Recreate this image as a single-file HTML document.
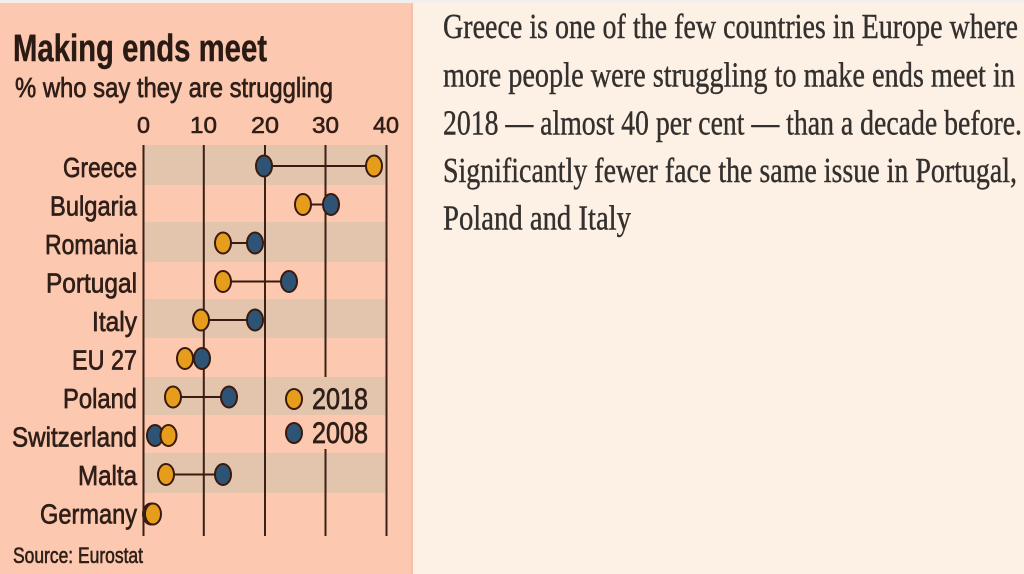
<!DOCTYPE html>
<html>
<head>
<meta charset="utf-8">
<style>
  html, body { margin:0; padding:0; background:#fdf0e4; }
  svg { display:block; }
</style>
</head>
<body>
<svg width="1024" height="574" viewBox="0 0 1024 574" xmlns="http://www.w3.org/2000/svg">
  <!-- backgrounds -->
  <rect x="0" y="0" width="1024" height="574" fill="#fdf0e4"/>
  <rect x="0" y="0" width="412" height="574" fill="#fcc8af"/>
  <rect x="411" y="0" width="2" height="574" fill="#f4c0a8"/>
  <rect x="0" y="0" width="1024" height="3" fill="#f2eeeb"/>

  <!-- title -->
  <text x="13" y="61" font-family="Liberation Sans, sans-serif" font-weight="bold" font-size="38" fill="#2a1a14" stroke="#2a1a14" stroke-width="0.4" textLength="254" lengthAdjust="spacingAndGlyphs">Making ends meet</text>
  <text x="15" y="97" font-family="Liberation Sans, sans-serif" font-size="28" fill="#2f1f18" stroke="#2f1f18" stroke-width="0.7" textLength="318" lengthAdjust="spacingAndGlyphs">% who say they are struggling</text>

  <!-- tick labels -->
  <g font-family="Liberation Sans, sans-serif" font-size="23" fill="#2f1f18" stroke="#2f1f18" stroke-width="0.6">
    <text x="137" y="133" textLength="13" lengthAdjust="spacingAndGlyphs">0</text>
    <text x="190" y="133" textLength="27" lengthAdjust="spacingAndGlyphs">10</text>
    <text x="251" y="133" textLength="28" lengthAdjust="spacingAndGlyphs">20</text>
    <text x="312" y="133" textLength="27" lengthAdjust="spacingAndGlyphs">30</text>
    <text x="373" y="133" textLength="26" lengthAdjust="spacingAndGlyphs">40</text>
  </g>

  <!-- bands -->
  <g fill="#e3c4ad">
    <rect x="143" y="145" width="243" height="40"/>
    <rect x="143" y="222" width="243" height="40"/>
    <rect x="143" y="299" width="243" height="39"/>
    <rect x="143" y="377" width="243" height="38"/>
    <rect x="143" y="453" width="243" height="40"/>
  </g>

  <!-- gridlines -->
  <g stroke="#3a2016" stroke-width="2">
    <line x1="143.5" y1="145" x2="143.5" y2="536"/>
    <line x1="203.8" y1="145" x2="203.8" y2="536"/>
    <line x1="265" y1="145" x2="265" y2="536"/>
    <line x1="325.5" y1="145" x2="325.5" y2="377"/>
    <line x1="325.5" y1="449" x2="325.5" y2="536"/>
    <line x1="386.5" y1="145" x2="386.5" y2="536"/>
  </g>

  <!-- country labels -->
  <g font-family="Liberation Sans, sans-serif" font-size="28" fill="#2f1f18" stroke="#2f1f18" stroke-width="0.7">
    <text x="63" y="177" textLength="74" lengthAdjust="spacingAndGlyphs">Greece</text>
    <text x="50" y="215.5" textLength="87" lengthAdjust="spacingAndGlyphs">Bulgaria</text>
    <text x="45" y="254" textLength="92" lengthAdjust="spacingAndGlyphs">Romania</text>
    <text x="46" y="292.5" textLength="91" lengthAdjust="spacingAndGlyphs">Portugal</text>
    <text x="92" y="331" textLength="45" lengthAdjust="spacingAndGlyphs">Italy</text>
    <text x="72" y="369.5" textLength="65" lengthAdjust="spacingAndGlyphs">EU 27</text>
    <text x="63" y="408" textLength="74" lengthAdjust="spacingAndGlyphs">Poland</text>
    <text x="12" y="446.5" textLength="125" lengthAdjust="spacingAndGlyphs">Switzerland</text>
    <text x="78" y="485" textLength="59" lengthAdjust="spacingAndGlyphs">Malta</text>
    <text x="40" y="523.5" textLength="97" lengthAdjust="spacingAndGlyphs">Germany</text>
  </g>

  <!-- connectors -->
  <g stroke="#3a1a0e" stroke-width="2">
    <line x1="264" y1="166" x2="374" y2="166"/>
    <line x1="303" y1="204.5" x2="331" y2="204.5"/>
    <line x1="223" y1="243" x2="255" y2="243"/>
    <line x1="223" y1="281.5" x2="289" y2="281.5"/>
    <line x1="201" y1="320" x2="255" y2="320"/>
    <line x1="185" y1="358.5" x2="202" y2="358.5"/>
    <line x1="173" y1="397" x2="229" y2="397"/>
    <line x1="155" y1="435.5" x2="168.5" y2="435.5"/>
    <line x1="166" y1="474.5" x2="223" y2="474.5"/>
  </g>

  <!-- dots -->
  <g stroke="#3a1a0e" stroke-width="2">
    <ellipse cx="264" cy="166" rx="8" ry="10.5" fill="#2d5475"/>
    <ellipse cx="374" cy="166" rx="8" ry="10.5" fill="#e79d1c"/>
    <ellipse cx="303" cy="204.5" rx="8" ry="10.5" fill="#e79d1c"/>
    <ellipse cx="331" cy="204.5" rx="8" ry="10.5" fill="#2d5475"/>
    <ellipse cx="223" cy="243" rx="8" ry="10.5" fill="#e79d1c"/>
    <ellipse cx="255" cy="243" rx="8" ry="10.5" fill="#2d5475"/>
    <ellipse cx="223" cy="281.5" rx="8" ry="10.5" fill="#e79d1c"/>
    <ellipse cx="289" cy="281.5" rx="8" ry="10.5" fill="#2d5475"/>
    <ellipse cx="201" cy="320" rx="8" ry="10.5" fill="#e79d1c"/>
    <ellipse cx="255" cy="320" rx="8" ry="10.5" fill="#2d5475"/>
    <ellipse cx="185" cy="358.5" rx="8" ry="10.5" fill="#e79d1c"/>
    <ellipse cx="202" cy="358.5" rx="8" ry="10.5" fill="#2d5475"/>
    <ellipse cx="173" cy="397" rx="8" ry="10.5" fill="#e79d1c"/>
    <ellipse cx="229" cy="397" rx="8" ry="10.5" fill="#2d5475"/>
    <ellipse cx="155" cy="435.5" rx="8" ry="10.5" fill="#2d5475"/>
    <ellipse cx="168.5" cy="435.5" rx="8" ry="10.5" fill="#e79d1c"/>
    <ellipse cx="166" cy="474.5" rx="8" ry="10.5" fill="#e79d1c"/>
    <ellipse cx="223" cy="474.5" rx="8" ry="10.5" fill="#2d5475"/>
    <ellipse cx="151" cy="514" rx="8" ry="10.5" fill="#2d5475"/>
    <ellipse cx="153" cy="514" rx="8" ry="10.5" fill="#e79d1c"/>
    <ellipse cx="294" cy="399" rx="8" ry="10" fill="#e79d1c"/>
    <ellipse cx="294" cy="433" rx="8" ry="10" fill="#2d5475"/>
  </g>
  <g font-family="Liberation Sans, sans-serif" font-size="30" fill="#2f1f18" stroke="#2f1f18" stroke-width="0.7">
    <text x="312" y="409" textLength="56" lengthAdjust="spacingAndGlyphs">2018</text>
    <text x="312" y="443" textLength="56" lengthAdjust="spacingAndGlyphs">2008</text>
  </g>

  <!-- source -->
  <text x="13" y="563" font-family="Liberation Sans, sans-serif" font-size="22" fill="#2f1f18" stroke="#2f1f18" stroke-width="0.6" textLength="130" lengthAdjust="spacingAndGlyphs">Source: Eurostat</text>

  <!-- right text -->
  <g font-family="Liberation Serif, serif" font-size="35" fill="#33302e" stroke="#33302e" stroke-width="0.4">
    <text x="443" y="38" textLength="575" lengthAdjust="spacingAndGlyphs">Greece is one of the few countries in Europe where</text>
    <text x="443" y="86.5" textLength="572" lengthAdjust="spacingAndGlyphs">more people were struggling to make ends meet in</text>
    <text x="443" y="134.5" textLength="579" lengthAdjust="spacingAndGlyphs">2018 — almost 40 per cent — than a decade before.</text>
    <text x="443" y="182" textLength="574" lengthAdjust="spacingAndGlyphs">Significantly fewer face the same issue in Portugal,</text>
    <text x="443" y="229.5" textLength="188" lengthAdjust="spacingAndGlyphs">Poland and Italy</text>
  </g>
</svg>
</body>
</html>
